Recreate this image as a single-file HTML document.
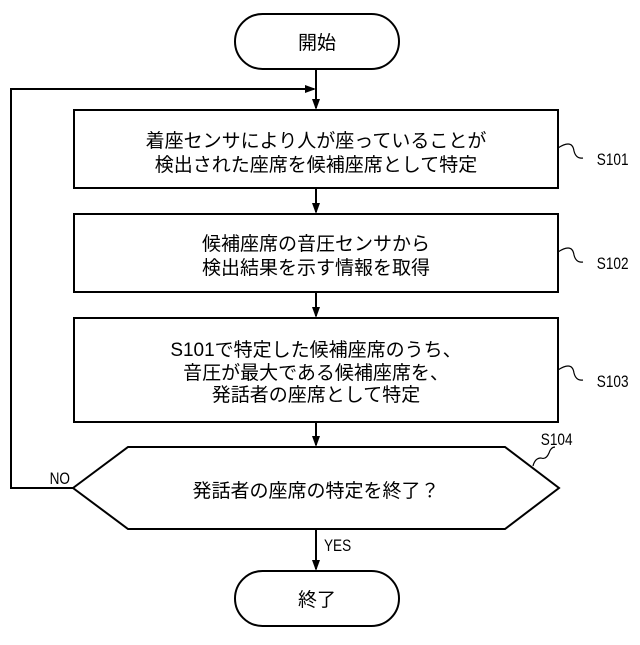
<!DOCTYPE html>
<html><head><meta charset="utf-8"><style>
body{margin:0;background:#fff}
svg text{font-family:"Liberation Sans","Noto Sans CJK JP",sans-serif;font-size:19px;fill:#000}
svg text.l{font-size:17px}
</style></head><body>
<svg width="640" height="640" viewBox="0 0 640 640" xmlns="http://www.w3.org/2000/svg">
<g fill="none" stroke="#000" stroke-width="2">
<rect x="235" y="14" width="164" height="55" rx="27.5"/>
<rect x="74" y="110" width="484" height="78"/>
<rect x="74" y="214" width="484" height="78"/>
<rect x="74" y="318" width="484" height="104"/>
<polygon points="73,488 128,447 505,447 559,488 505,529 128,529"/>
<rect x="235" y="571" width="164" height="55" rx="27.5"/>
<line x1="316" y1="69" x2="316" y2="108"/>
<line x1="316" y1="188" x2="316" y2="212"/>
<line x1="316" y1="292" x2="316" y2="316"/>
<line x1="316" y1="422" x2="316" y2="445"/>
<line x1="316" y1="529" x2="316" y2="569"/>
<polyline points="73,488 11,488 11,89 314,89"/>
<path d="M558,148 q6,-4 10,-4 q5,0 6,7 q2,8 9,7" stroke-width="1.2"/>
<path d="M558,252 q6,-4 10,-4 q5,0 6,7 q2,8 9,7" stroke-width="1.2"/>
<path d="M558,370 q6,-4 10,-4 q5,0 6,7 q2,8 9,7" stroke-width="1.2"/>
<path d="M533,466 q2,-8 8,-8 q5,2 8,-5 q2,-6 6,-6" stroke-width="1.2"/>
</g>
<g fill="#000">
<path d="M305,85 L316,89 L305,93 Z"/>
<path d="M312,99 L316,110 L320,99 Z"/>
<path d="M312,203 L316,214 L320,203 Z"/>
<path d="M312,307 L316,318 L320,307 Z"/>
<path d="M312,436 L316,447 L320,436 Z"/>
<path d="M312,560 L316,571 L320,560 Z"/>
</g>
<text x="317" y="49" text-anchor="middle">開始</text>
<text x="316" y="147" text-anchor="middle">着座センサにより人が座っていることが</text>
<text x="316" y="171" text-anchor="middle">検出された座席を候補座席として特定</text>
<text x="316" y="250" text-anchor="middle">候補座席の音圧センサから</text>
<text x="316" y="274" text-anchor="middle">検出結果を示す情報を取得</text>
<text x="316" y="356" text-anchor="middle">S101で特定した候補座席のうち、</text>
<text x="316" y="379" text-anchor="middle">音圧が最大である候補座席を、</text>
<text x="316" y="401" text-anchor="middle">発話者の座席として特定</text>
<text x="316" y="497" text-anchor="middle">発話者の座席の特定を終了？</text>
<text x="317" y="606" text-anchor="middle">終了</text>
<g transform="scale(0.8,1)">
<text class="l" x="746" y="165">S101</text>
<text class="l" x="746" y="269">S102</text>
<text class="l" x="746" y="387">S103</text>
<text class="l" x="676" y="445">S104</text>
<text class="l" x="62" y="484">NO</text>
<text class="l" x="405" y="551">YES</text>
</g>
</svg>
</body></html>
